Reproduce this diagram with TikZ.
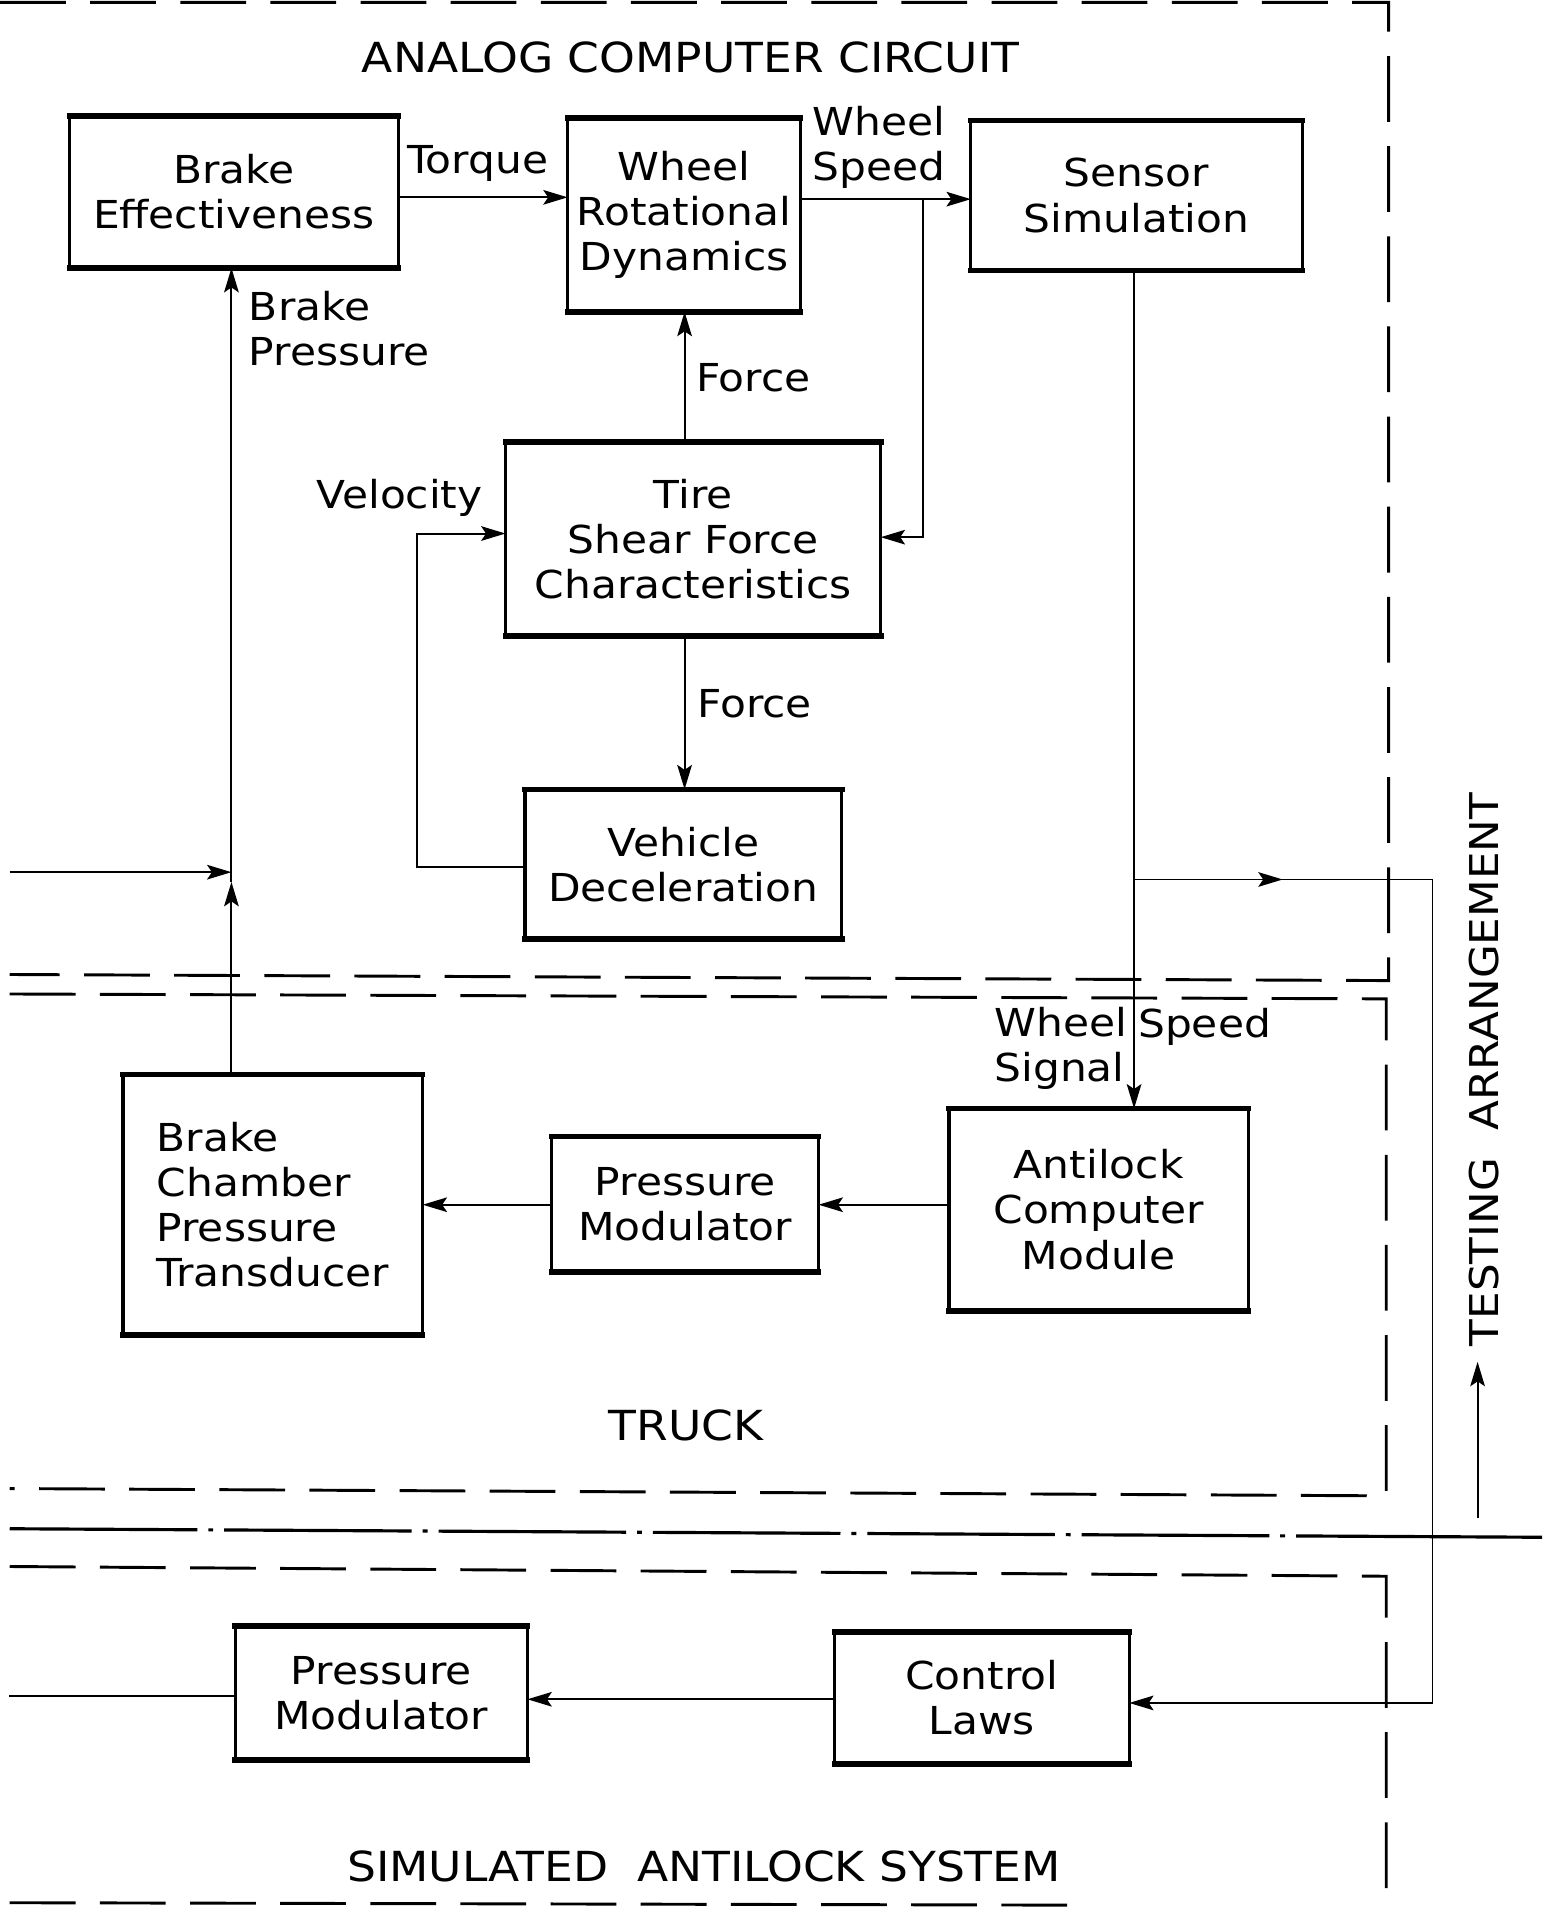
\documentclass[tikz,border=0pt]{standalone}
\usepackage{fontspec}
\setmainfont{DejaVu Sans}[FakeStretch=1.1]
\usetikzlibrary{arrows.meta}
\newcommand\dgmfont{\fontsize{15.8pt}{18.5pt}\selectfont}
\newcommand\dgmtitle{\fontsize{17pt}{20pt}\selectfont}
\newcommand\dgmside{\fontsize{16.3pt}{20pt}\selectfont}
\begin{document}
\begin{tikzpicture}[x=0.5pt,y=-0.5pt,
  box/.style={draw, line width=1.3pt, inner sep=0pt, outer sep=0pt, align=center, font=\dgmfont,
    append after command={(\tikzlastnode.north west) edge[line width=2.3pt, line cap=rect] (\tikzlastnode.north east)
                          (\tikzlastnode.south west) edge[line width=2.3pt, line cap=rect] (\tikzlastnode.south east)}},
  lbl/.style={inner sep=0pt, font=\dgmfont},
  ttl/.style={inner sep=0pt, font=\dgmtitle},
  ln/.style={line width=0.8pt},
  arr/.style={line width=0.8pt, -{Stealth[length=10pt,width=6pt,inset=2pt]}},
  bnd/.style={line width=1.2pt, dash pattern=on 27pt off 10pt},
  dashdot/.style={line width=1.3pt, dash pattern=on 77pt off 4.5pt on 2pt off 4.5pt}]
\fill[white] (0,0) rectangle (1266,1568);
\useasboundingbox (0,0) rectangle (1266,1568);

% region boundaries
\draw[bnd] (0,2) -- (1140,2) -- (1140,805) -- (8,800);
\draw[bnd] (8,816) -- (1138,820) -- (1138,1228) -- (8,1222);
\draw[dashdot] (8,1255) -- (1082,1261);
\draw[line width=1.3pt] (1082,1261) -- (1266,1262);
\draw[bnd] (8,1286) -- (1138,1294) -- (1138,1568);
\draw[bnd] (8,1562) -- (880,1564);

% blocks
\node[box, minimum width=135pt, minimum height=62.5pt] (be) at (192,157.5) {Brake\\Effectiveness};
\node[box, minimum width=95.5pt, minimum height=79.5pt] (wrd) at (561.5,176.5) {Wheel\\Rotational\\Dynamics};
\node[box, minimum width=136pt, minimum height=61.5pt] (ss) at (933,160.5) {Sensor\\Simulation};
\node[box, minimum width=154pt, minimum height=79.5pt] (tsf) at (569,442.5) {Tire\\Shear Force\\Characteristics};
\node[box, minimum width=130pt, minimum height=61.5pt] (vd) at (561,709.5) {Vehicle\\Deceleration};
\node[box, align=left, minimum width=123pt, minimum height=107pt] (bct) at (224,989) {Brake\\Chamber\\Pressure\\Transducer};
\node[box, minimum width=109.5pt, minimum height=55.5pt] (pmt) at (562.5,988.5) {Pressure\\Modulator};
\node[box, minimum width=123pt, minimum height=83pt] (acm) at (902,993) {Antilock\\Computer\\Module};
\node[box, minimum width=120pt, minimum height=55pt] (pms) at (313,1390) {Pressure\\Modulator};
\node[box, minimum width=121pt, minimum height=54pt] (cl) at (806,1394) {Control\\Laws};

% helper coordinates
\coordinate (yTq) at (0,162);
\coordinate (yWs) at (0,163.5);
\coordinate (jWs) at (758,163.5);
\coordinate (jWs2) at (758,441);
\coordinate (xF) at (562,0);
\coordinate (jV1) at (342,712);
\coordinate (jV2) at (342,438);
\coordinate (jBP) at (190,724);
\coordinate (inL) at (8,716);
\coordinate (xS) at (931,0);
\coordinate (jS) at (931,722);
\coordinate (mR) at (1053,722);
\coordinate (jR1) at (1176,722);
\coordinate (jR2) at (1176,1398);
\coordinate (outL) at (7,1392);
\coordinate (yA) at (0,989);
\coordinate (yC) at (0,1395);
\coordinate (tA1) at (1213,1246);
\coordinate (tA2) at (1213,1118);

% connectors
\draw[arr] (be.east |- yTq) -- (wrd.west |- yTq);
\draw[arr] (wrd.east |- yWs) -- (ss.west |- yWs);
\draw[arr] (jWs) -- (jWs2) -- (tsf.east |- jWs2);
\draw[arr] (tsf.north -| xF) -- (wrd.south -| xF);
\draw[arr] (tsf.south -| xF) -- (vd.north -| xF);
\draw[arr] (vd.west |- jV1) -- (jV1) -- (jV2) -- (tsf.west |- jV2);
\draw[arr] (bct.north -| jBP) -- (jBP);
\draw[arr] (jBP) -- (be.south -| jBP);
\draw[arr] (inL) -- (jBP |- inL);
\draw[arr] (ss.south -| xS) -- (acm.north -| xS);
\draw[ln] (jS) -- (jR1) -- (jR2);
\draw[arr] (jS) -- (mR);
\draw[arr] (jR2) -- (cl.east |- jR2);
\draw[arr] (acm.west |- yA) -- (pmt.east |- yA);
\draw[arr] (pmt.west |- yA) -- (bct.east |- yA);
\draw[arr] (cl.west |- yC) -- (pms.east |- yC);
\draw[ln] (pms.west |- outL) -- (outL);
\draw[arr] (tA1) -- (tA2);

% connector labels
\node[lbl] (lTq) at (392,134) {Torque};
\node[lbl, align=left, anchor=west] (lWs) at (667,121) {Wheel\\Speed};
\node[lbl, align=left, anchor=west] (lBP) at (204,270) {Brake\\Pressure};
\node[lbl, anchor=west] (lF1) at (571,310) {Force};
\node[lbl] (lVel) at (328,409) {Velocity};
\node[lbl, anchor=west] (lF2) at (572,578) {Force};
\node[lbl, align=left, anchor=west] (lWss) at (816,861) {Wheel\\Signal};
\node[lbl, anchor=west] (lSp) at (934,843) {Speed};

% titles
\node[ttl] (tAn) at (567,47) {ANALOG COMPUTER CIRCUIT};
\node[ttl] (tTr) at (563,1170) {TRUCK};
\node[ttl] (tSim) at (578,1532) {SIMULATED\ \ ANTILOCK SYSTEM};
\node[inner sep=0pt, font=\dgmside, rotate=90] (tTest) at (1218,878) {TESTING\ \ ARRANGEMENT};
\end{tikzpicture}
\end{document}
